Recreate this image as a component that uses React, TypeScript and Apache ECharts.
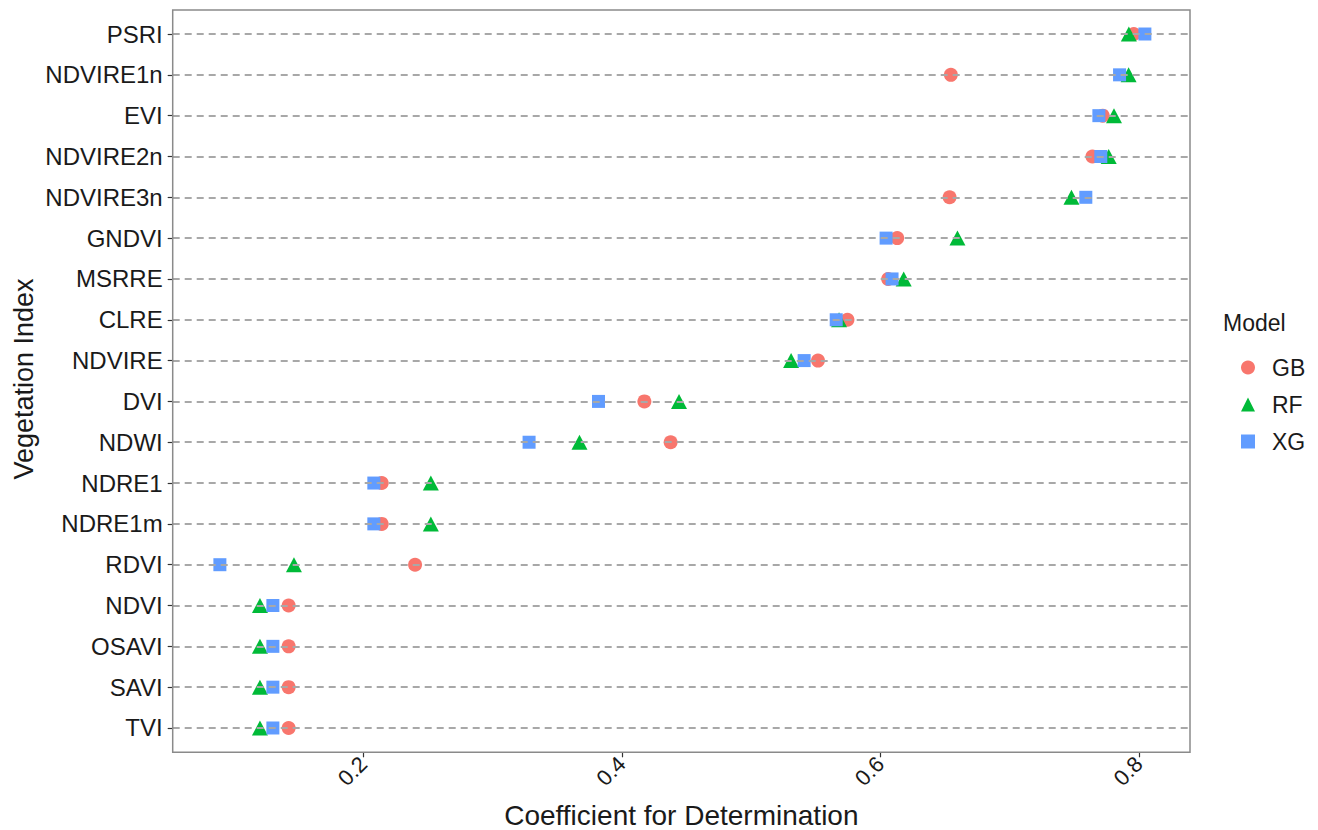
import React, { useEffect, useRef } from "react";
import * as echarts from "echarts";

const categories = ["PSRI", "NDVIRE1n", "EVI", "NDVIRE2n", "NDVIRE3n", "GNDVI", "MSRRE", "CLRE", "NDVIRE", "DVI", "NDWI", "NDRE1", "NDRE1m", "RDVI", "NDVI", "OSAVI", "SAVI", "TVI"];
const gbValues = [0.796, 0.6545, 0.772, 0.764, 0.6535, 0.613, 0.606, 0.5745, 0.5517, 0.4174, 0.4377, 0.2142, 0.2142, 0.24, 0.1422, 0.1422, 0.1422, 0.1422];
const rfValues = [0.7922, 0.792, 0.7807, 0.7766, 0.7478, 0.6596, 0.618, 0.568, 0.5309, 0.4442, 0.3672, 0.2522, 0.2522, 0.1463, 0.12, 0.12, 0.12, 0.12];
const xgValues = [0.8046, 0.785, 0.769, 0.7705, 0.7589, 0.6044, 0.609, 0.5658, 0.541, 0.3819, 0.3282, 0.2081, 0.2081, 0.089, 0.13, 0.13, 0.13, 0.13];
const xTicks = [0.2, 0.4, 0.6, 0.8];
const models = ["GB", "RF", "XG"];

const FONT = "'Liberation Sans', Arial, sans-serif";

export default function App() {
  const ref = useRef<HTMLDivElement>(null);
  useEffect(() => {
    if (!ref.current) return;
    const chart = echarts.init(ref.current, null, { renderer: "svg" });
    const left = 172.7, right = 1190, top = 10, bottom = 752.3;
    const gridTop = 13.6, gridBottom = 748.4;
    const toPairs = (vals: number[]) => vals.map((v, i) => [v, categories[i]]);
    chart.setOption({
      animation: false,
      backgroundColor: "#ffffff",
      textStyle: { fontFamily: FONT },
      grid: { left, right: 1318 - right, top: gridTop, bottom: 830 - gridBottom, containLabel: false },
      xAxis: {
        type: "value",
        min: 0.0525,
        max: 0.8395,
        offset: bottom - gridBottom,
        axisLine: { show: false },
        splitLine: { show: false },
        axisTick: { show: true, length: 5, lineStyle: { color: "#333", width: 1.2 }, customValues: xTicks },
        axisLabel: {
          customValues: xTicks,
          rotate: 45,
          fontSize: 22,
          color: "#1a1a1a",
          margin: 8,
          fontFamily: FONT,
          formatter: (v: number) => v.toFixed(1),
        },
      },
      yAxis: {
        type: "category",
        data: categories,
        inverse: true,
        axisLine: { show: false },
        splitLine: { show: false },
        axisTick: { show: true, alignWithLabel: true, interval: 0, length: 5, lineStyle: { color: "#333", width: 1.2 } },
        axisLabel: { interval: 0, fontSize: 24, color: "#1a1a1a", margin: 10, fontFamily: FONT },
      },
      legend: {
        orient: "vertical",
        left: 1236,
        top: 351,
        itemWidth: 14,
        itemHeight: 14,
        itemGap: 14,
        data: [
          { name: models[0], icon: "circle" },
          { name: models[1], icon: "triangle" },
          { name: models[2], icon: "rect" },
        ],
        textStyle: { fontSize: 23, color: "#1a1a1a", fontFamily: FONT, lineHeight: 22, padding: [0, 0, 0, 12] },
      },
      graphic: [
        {
          type: "rect",
          shape: { x: left, y: top, width: right - left, height: bottom - top },
          style: { fill: "none", stroke: "#8a8a8a", lineWidth: 1.5 },
          z: 100,
          silent: true,
        },
        {
          type: "text",
          x: 1223,
          y: 323,
          style: { text: "Model", fontSize: 23, fontFamily: FONT, fill: "#1a1a1a", verticalAlign: "middle", align: "left" },
        },
        {
          type: "text",
          x: 24,
          y: 379,
          rotation: Math.PI / 2,
          style: { text: "Vegetation Index", fontSize: 27, fontFamily: FONT, fill: "#1a1a1a", verticalAlign: "middle", align: "center" },
        },
        {
          type: "text",
          x: (left + right) / 2,
          y: 815,
          style: { text: "Coefficient for Determination", fontSize: 28, fontFamily: FONT, fill: "#1a1a1a", verticalAlign: "middle", align: "center" },
        },
      ],
      series: [
        {
          name: "guides",
          type: "line",
          data: [],
          silent: true,
          markLine: {
            silent: true,
            symbol: ["none", "none"],
            label: { show: false },
            lineStyle: { color: "#a8a8a8", type: [7, 5], width: 1.8 },
            data: categories.map((c) => ({ yAxis: c })),
          },
        },
        {
          name: models[0],
          type: "scatter",
          symbol: "circle",
          symbolSize: 14,
          itemStyle: { color: "#F8766D", opacity: 1 },
          data: toPairs(gbValues),
        },
        {
          name: models[1],
          type: "scatter",
          symbol: "triangle",
          symbolSize: [16, 15],
          itemStyle: { color: "#00BA38", opacity: 1 },
          data: toPairs(rfValues),
        },
        {
          name: models[2],
          type: "scatter",
          symbol: "rect",
          symbolSize: 13,
          itemStyle: { color: "#619CFF", opacity: 1 },
          data: toPairs(xgValues),
        },
      ],
    });
    return () => chart.dispose();
  }, []);
  return <div ref={ref} style={{ position: "fixed", left: 0, top: 0, width: 1318, height: 830 }} />;
}
